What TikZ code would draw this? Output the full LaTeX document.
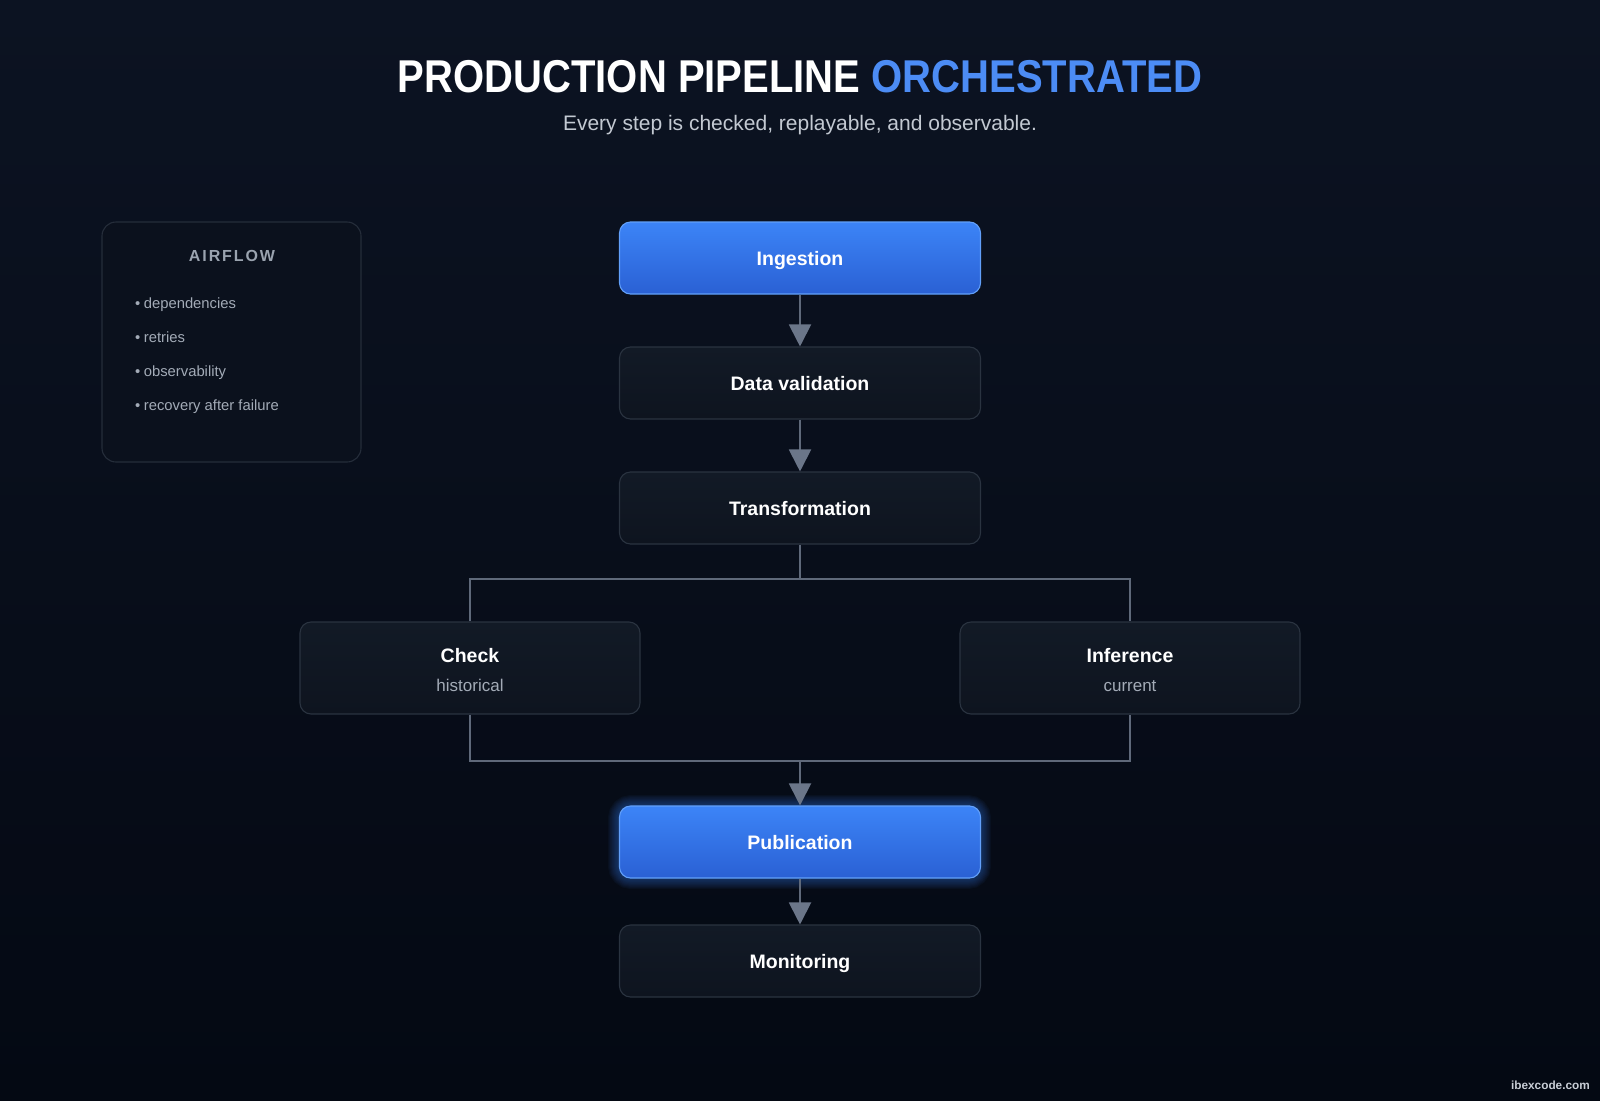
\documentclass[tikz,border=0pt]{standalone}
\usepackage{fontspec}
\setmainfont{Liberation Sans}
\usetikzlibrary{arrows.meta}
\definecolor{bgtop}{HTML}{0C1322}
\definecolor{bgbot}{HTML}{040913}
\definecolor{boxfill}{HTML}{121A26}
\definecolor{boxfillb}{HTML}{0E141F}
\definecolor{boxline}{HTML}{2A3340}
\definecolor{panelfill}{HTML}{0B111D}
\definecolor{panelline}{HTML}{252D3A}
\definecolor{bluetop}{HTML}{3C84F7}
\definecolor{bluebot}{HTML}{2A60D4}
\definecolor{blueline}{HTML}{62A0FA}
\definecolor{glow}{HTML}{3B82F6}
\definecolor{conn}{HTML}{5F697A}
\definecolor{tipc}{HTML}{6B7689}
\definecolor{titleblue}{HTML}{4C8CF5}
\definecolor{subgray}{HTML}{C3C9D2}
\definecolor{muted}{HTML}{A3ABB7}
\definecolor{airgray}{HTML}{9AA3AF}
\definecolor{wm}{HTML}{C8CDD5}
\begin{document}
\begin{tikzpicture}[x=1pt,y=-1pt,
  stagebox/.style={line width=1.1pt, rounded corners=11pt, minimum width=361pt, minimum height=72pt,
    inner sep=0pt, text=white, font=\fontsize{19.5}{24}\selectfont\bfseries, text height=14pt, text depth=0pt},
  darkbox/.style={stagebox, draw=boxline, top color=boxfill, bottom color=boxfillb},
  bluebox/.style={stagebox, draw=blueline, top color=bluetop, bottom color=bluebot},
  sidebox/.style={darkbox, minimum width=340pt, minimum height=92pt},
  headtxt/.style={inner sep=0pt, text=white, font=\fontsize{19.5}{24}\selectfont\bfseries, text height=14pt, text depth=0pt},
  subtxt/.style={inner sep=0pt, text=muted, font=\fontsize{17}{20}\selectfont, text height=12.2pt, text depth=0pt},
  wire/.style={draw=conn, line width=2pt},
  arr/.style={wire, -{Triangle[width=22pt,length=22pt,color=tipc,fill=tipc]}},
  bullet/.style={anchor=west, inner sep=0pt, text=muted, font=\fontsize{14.8}{18}\selectfont, text height=10.6pt, text depth=0pt}
]
\useasboundingbox (0,0) rectangle (1600,1100);
\shade[top color=bgtop, bottom color=bgbot] (0,0) rectangle (1600,1100);

% title
\node[inner sep=0pt, font=\fontsize{46}{52}\selectfont\bfseries, text height=33pt, text depth=0pt] (title) at (800,76)
  {\scalebox{0.87}[1]{\textcolor{white}{PRODUCTION PIPELINE} \textcolor{titleblue}{ORCHESTRATED}}};
\node[inner sep=0pt, text=subgray, font=\fontsize{21}{24}\selectfont, text height=15pt, text depth=0pt] (subtitle) at (800,123)
  {Every step is checked, replayable, and observable.};

% airflow panel
\node[draw=panelline, fill=panelfill, line width=1.1pt, rounded corners=14pt,
  minimum width=259pt, minimum height=240pt, inner sep=0pt] (panel) at (231.5,342) {};
\node[inner sep=0pt, text=airgray, font=\fontsize{16}{18}\selectfont\bfseries\addfontfeature{LetterSpace=12}, text height=11.5pt, text depth=0pt] (airtitle) at (232,256) {AIRFLOW};
\node[bullet] (b1) at (135,303) {\textbullet\hspace{3.5pt}dependencies};
\node[bullet] (b2) at (135,337) {\textbullet\hspace{3.5pt}retries};
\node[bullet] (b3) at (135,371) {\textbullet\hspace{3.5pt}observability};
\node[bullet] (b4) at (135,405) {\textbullet\hspace{3.5pt}recovery after failure};

% publication glow
\foreach \g in {1,...,10}
  \draw[glow, opacity=0.045, line width=\g*2.2pt, rounded corners=12pt] (619,806) rectangle (980,878);

% stages
\node[bluebox] (ing) at (800,258) {Ingestion};
\node[darkbox] (val) at (800,383) {Data validation};
\node[darkbox] (tra) at (800,508) {Transformation};
\node[sidebox] (chk) at (470,668) {};
\node[headtxt] (chkt) at (470,655) {Check};
\node[subtxt] (chks) at (470,685) {historical};
\node[sidebox] (inf) at (1130,668) {};
\node[headtxt] (inft) at (1130,655) {Inference};
\node[subtxt] (infs) at (1130,685) {current};
\node[bluebox] (pub) at (800,842) {Publication};
\node[darkbox] (mon) at (800,961) {Monitoring};

% connectors
\coordinate (split) at (800,579);
\coordinate (merge) at (800,761);
\draw[arr] (ing) -- (val);
\draw[arr] (val) -- (tra);
\draw[wire] (tra.south) -- (split);
\draw[wire] (chk.north) |- (split) -| (inf.north);
\draw[wire] (chk.south) |- (merge) -| (inf.south);
\draw[arr] (merge) -- (pub.north);
\draw[arr] (pub) -- (mon);

% watermark
\node[inner sep=0pt, anchor=east, text=wm, font=\fontsize{11.8}{14}\selectfont\bfseries] (wmark) at (1590,1085) {ibexcode.com};
\end{tikzpicture}
\end{document}
